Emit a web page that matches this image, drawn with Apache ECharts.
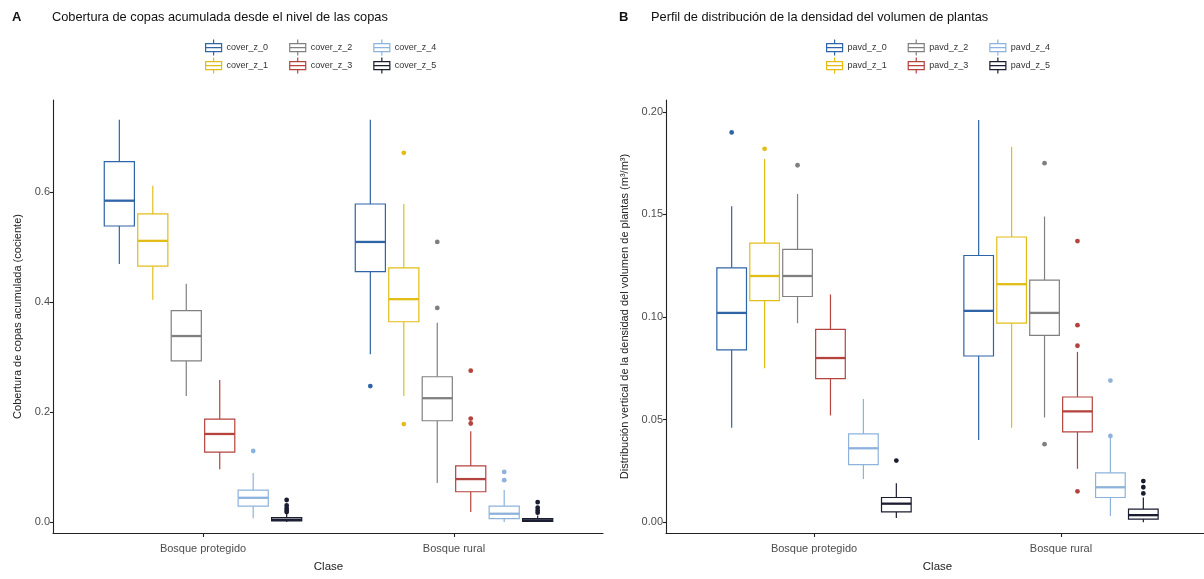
<!DOCTYPE html>
<html>
<head>
<meta charset="utf-8">
<script src="https://cdn.jsdelivr.net/npm/echarts@6/dist/echarts.min.js"></script>
<style>
html,body{margin:0;padding:0;background:#fff;}
#chart{width:1204px;height:579px;}
</style>
</head>
<body>
<div id="chart"></div>
<script>
// ---------------- DATA ----------------
const categories = ['Bosque protegido', 'Bosque rural'];
const coverNames = ['cover_z_0', 'cover_z_1', 'cover_z_2', 'cover_z_3', 'cover_z_4', 'cover_z_5'];
const pavdNames = ['pavd_z_0', 'pavd_z_1', 'pavd_z_2', 'pavd_z_3', 'pavd_z_4', 'pavd_z_5'];

// [min whisker, Q1, median, Q3, max whisker]
const coverProtegido = [
  [0.469, 0.538, 0.584, 0.655, 0.731],
  [0.404, 0.465, 0.511, 0.560, 0.611],
  [0.229, 0.293, 0.338, 0.384, 0.433],
  [0.096, 0.127, 0.160, 0.187, 0.258],
  [0.007, 0.029, 0.044, 0.058, 0.089],
  [0.000, 0.002, 0.004, 0.008, 0.015]
];
const coverRural = [
  [0.305, 0.455, 0.509, 0.578, 0.731],
  [0.229, 0.364, 0.405, 0.462, 0.578],
  [0.071, 0.184, 0.225, 0.264, 0.362],
  [0.018, 0.055, 0.078, 0.102, 0.165],
  [0.000, 0.006, 0.015, 0.029, 0.058],
  [0.000, 0.001, 0.003, 0.006, 0.012]
];
const coverOutProtegido = [[], [], [], [], [0.129], [0.040, 0.030, 0.025, 0.021, 0.018]];
const coverOutRural = [[0.247], [0.671, 0.178], [0.509, 0.389], [0.275, 0.188, 0.179], [0.091, 0.076], [0.036, 0.026, 0.021, 0.017]];

const pavdProtegido = [
  [0.046, 0.084, 0.102, 0.124, 0.154],
  [0.075, 0.108, 0.120, 0.136, 0.177],
  [0.097, 0.110, 0.120, 0.133, 0.160],
  [0.052, 0.070, 0.080, 0.094, 0.111],
  [0.021, 0.028, 0.036, 0.043, 0.060],
  [0.002, 0.005, 0.009, 0.012, 0.019]
];
const pavdRural = [
  [0.040, 0.081, 0.103, 0.130, 0.196],
  [0.046, 0.097, 0.116, 0.139, 0.183],
  [0.051, 0.091, 0.102, 0.118, 0.149],
  [0.026, 0.044, 0.054, 0.061, 0.083],
  [0.003, 0.012, 0.017, 0.024, 0.041],
  [0.000, 0.0015, 0.0034, 0.0063, 0.012]
];
const pavdOutProtegido = [[0.190], [0.182], [0.174], [], [], [0.030]];
const pavdOutRural = [[], [], [0.175, 0.038], [0.137, 0.096, 0.086, 0.015], [0.069, 0.042], [0.020, 0.017, 0.014]];

const coverTicks = [0, 0.2, 0.4, 0.6];
const coverTickLabels = ['0.0', '0.2', '0.4', '0.6'];
const pavdTicks = [0, 0.05, 0.1, 0.15, 0.2];
const pavdTickLabels = ['0.00', '0.05', '0.10', '0.15', '0.20'];

const groupColors = ['#2F64A6', '#E2BD17', '#808080', '#B4433E', '#8DB3DD', '#1A1C30'];

// ---------------- STYLE ----------------
const FONT = 'Liberation Sans, Arial, sans-serif';
const DODGE = 0.8;
const AXIS_COLOR = '#222';
const LABEL_COLOR = '#4d4d4d';
const BOX_ICON = 'path://M8,0L8,4M0,4L16,4L16,12L0,12ZM0,8L16,8M8,12L8,16';

function makeBox(g) {
  return function (params, api) {
    const cat = api.value(0);
    const band = api.size([1, 0])[0];
    const step = band * DODGE / 6;
    const x = api.coord([cat, 0])[0] + (g - 2.5) * step;
    const hw = step * 0.9 / 2;
    const y = [1, 2, 3, 4, 5].map(i => api.coord([cat, api.value(i)])[1]);
    const c = groupColors[g];
    const ls = { stroke: c, lineWidth: 1.2 };
    return {
      type: 'group',
      children: [
        { type: 'line', shape: { x1: x, y1: y[4], x2: x, y2: y[3] }, style: ls },
        { type: 'line', shape: { x1: x, y1: y[1], x2: x, y2: y[0] }, style: ls },
        { type: 'rect', shape: { x: x - hw, y: y[3], width: 2 * hw, height: y[1] - y[3] }, style: { fill: '#fff', stroke: c, lineWidth: 1.2 } },
        { type: 'line', shape: { x1: x - hw, y1: y[2], x2: x + hw, y2: y[2] }, style: { stroke: c, lineWidth: 2.3 } }
      ]
    };
  };
}
function makeOut(g) {
  return function (params, api) {
    const cat = api.value(0);
    const band = api.size([1, 0])[0];
    const step = band * DODGE / 6;
    const p = api.coord([cat, api.value(1)]);
    return { type: 'circle', shape: { cx: p[0] + (g - 2.5) * step, cy: p[1], r: 2.4 }, style: { fill: groupColors[g] } };
  };
}

function panelSeries(names, prot, rural, outP, outR, axisIdx) {
  const s = [];
  names.forEach((name, g) => {
    s.push({
      type: 'custom', name: name, xAxisIndex: axisIdx, yAxisIndex: axisIdx,
      itemStyle: { color: groupColors[g] }, silent: true, clip: false,
      encode: { x: 0, y: [1, 2, 3, 4, 5] },
      data: [[0].concat(prot[g]), [1].concat(rural[g])],
      renderItem: makeBox(g), z: 2
    });
    s.push({
      type: 'custom', name: name, xAxisIndex: axisIdx, yAxisIndex: axisIdx,
      itemStyle: { color: groupColors[g] }, silent: true, clip: false,
      encode: { x: 0, y: 1 },
      data: outP[g].map(v => [0, v]).concat(outR[g].map(v => [1, v])),
      renderItem: makeOut(g), z: 3
    });
  });
  return s;
}

function legendRow(names, idxs, left, top, gap) {
  return {
    left: left, top: top, orient: 'horizontal', selectedMode: false, padding: 0,
    itemWidth: 16, itemHeight: 16, itemGap: gap,
    textStyle: { fontSize: 9, color: '#333', fontFamily: FONT },
    data: idxs.map(i => ({
      name: names[i], icon: BOX_ICON,
      itemStyle: { color: '#fff', borderColor: groupColors[i], borderWidth: 1.2 }
    }))
  };
}

function frameX(grid) {
  return {
    gridIndex: grid, type: 'value', min: 0, max: 1,
    axisLine: { show: true, onZero: false, lineStyle: { color: AXIS_COLOR, width: 1.1 } },
    axisTick: { show: false }, axisLabel: { show: false }, splitLine: { show: false }
  };
}
function frameY(grid) {
  return { gridIndex: grid, type: 'value', min: 0, max: 1, show: false };
}
function dataX(grid) {
  return {
    gridIndex: grid, type: 'category', data: categories,
    axisLine: { show: false, onZero: false },
    axisTick: { show: true, alignWithLabel: true, length: 4, lineStyle: { color: AXIS_COLOR, width: 1.1 } },
    axisLabel: { fontSize: 11, color: LABEL_COLOR, fontFamily: FONT, margin: 10 },
    name: 'Clase', nameLocation: 'middle', nameGap: 28,
    nameTextStyle: { fontSize: 11.5, color: '#222', fontFamily: FONT },
    splitLine: { show: false }
  };
}
function dataY(grid, min, max, ticks, labels, offset, name, nameGap) {
  return {
    gridIndex: grid, type: 'value', min: min, max: max, offset: offset,
    axisLine: { show: true, onZero: false, lineStyle: { color: AXIS_COLOR, width: 1.1 } },
    axisTick: { show: true, length: 3, customValues: ticks, lineStyle: { color: AXIS_COLOR, width: 1.1 } },
    axisLabel: {
      fontSize: 11, color: LABEL_COLOR, fontFamily: FONT, margin: 3, customValues: ticks,
      formatter: v => { const i = ticks.findIndex(t => Math.abs(t - v) < 1e-9); return i >= 0 ? labels[i] : ''; }
    },
    splitLine: { show: false },
    name: name, nameLocation: 'middle', nameGap: nameGap,
    nameTextStyle: { fontSize: 11, color: '#222', fontFamily: FONT }
  };
}

const chart = echarts.init(document.getElementById('chart'), null, { renderer: 'canvas' });
const option = {
  backgroundColor: '#fff',
  animation: false,
  title: [
    { text: 'A', left: 7, top: 6, textStyle: { fontSize: 13, fontWeight: 'bold', color: '#111', fontFamily: FONT } },
    { text: 'Cobertura de copas acumulada desde el nivel de las copas', left: 47, top: 6, textStyle: { fontSize: 12.8, fontWeight: 'normal', color: '#111', fontFamily: FONT } },
    { text: 'B', left: 614, top: 6, textStyle: { fontSize: 13, fontWeight: 'bold', color: '#111', fontFamily: FONT } },
    { text: 'Perfil de distribución de la densidad del volumen de plantas', left: 646, top: 6, textStyle: { fontSize: 12.8, fontWeight: 'normal', color: '#111', fontFamily: FONT } }
  ],
  legend: [
    legendRow(coverNames, [0, 2, 4], 205, 39, 21),
    legendRow(coverNames, [1, 3, 5], 205, 57, 21),
    legendRow(pavdNames, [0, 2, 4], 826, 39, 21),
    legendRow(pavdNames, [1, 3, 5], 826, 57, 21)
  ],
  grid: [
    { left: 53, top: 100, width: 550, height: 433, outerBoundsMode: 'none', containLabel: false },
    { left: 77.5, top: 100, width: 502, height: 433, outerBoundsMode: 'none', containLabel: false },
    { left: 666, top: 100, width: 543, height: 433, outerBoundsMode: 'none', containLabel: false },
    { left: 690.5, top: 100, width: 494, height: 433, outerBoundsMode: 'none', containLabel: false }
  ],
  xAxis: [frameX(0), dataX(1), frameX(2), dataX(3)],
  yAxis: [
    frameY(0),
    dataY(1, -0.02, 0.767, coverTicks, coverTickLabels, 24.5, 'Cobertura de copas acumulada (cociente)', 30),
    frameY(2),
    dataY(3, -0.0053, 0.2058, pavdTicks, pavdTickLabels, 24.5, 'Distribución vertical de la densidad del volumen de plantas (m³/m³)', 36)
  ],
  series: [].concat(
    panelSeries(coverNames, coverProtegido, coverRural, coverOutProtegido, coverOutRural, 1),
    panelSeries(pavdNames, pavdProtegido, pavdRural, pavdOutProtegido, pavdOutRural, 3)
  )
};
chart.setOption(option);
</script>
</body>
</html>
